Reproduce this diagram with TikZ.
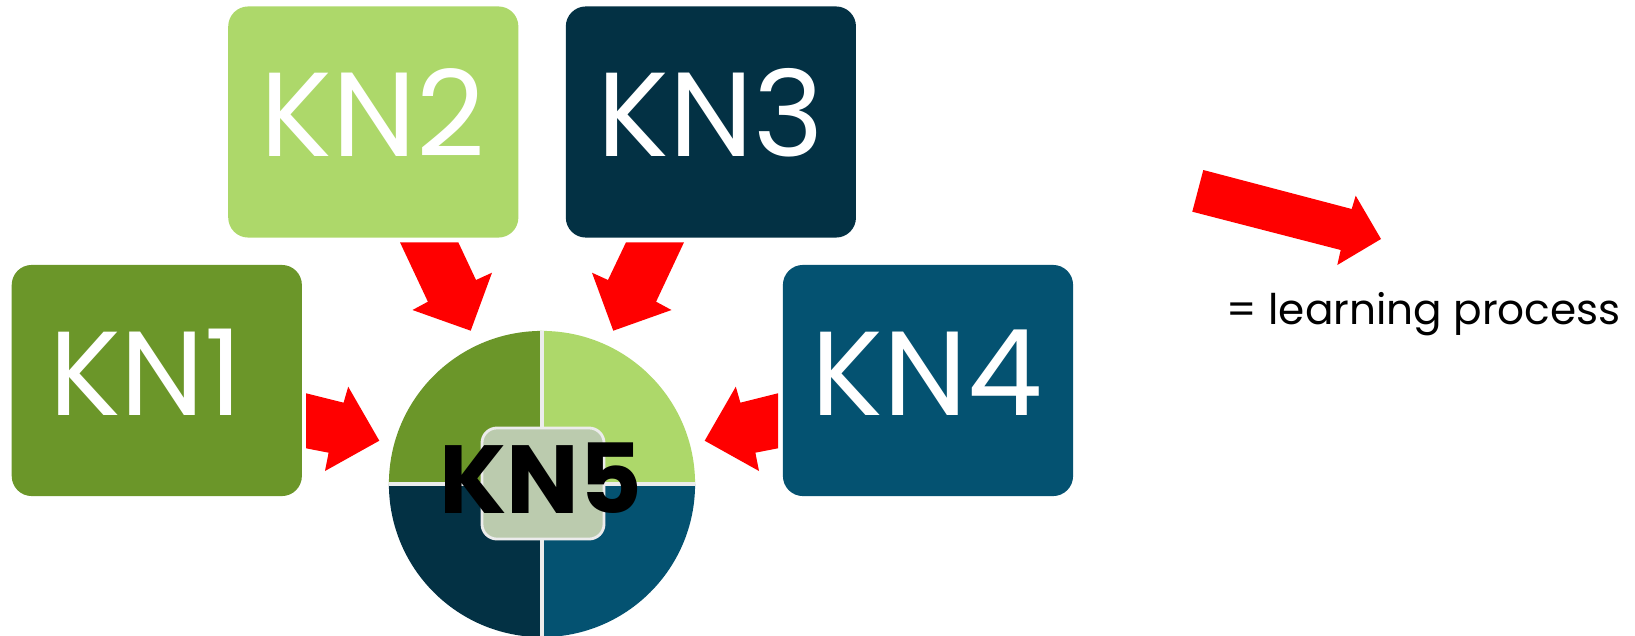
\documentclass[tikz,border=0pt]{standalone}
\usepackage{fontspec}
\setmainfont{Poppins}
\definecolor{cA}{HTML}{6B9629}
\definecolor{cB}{HTML}{ADD86A}
\definecolor{cC}{HTML}{033144}
\definecolor{cD}{HTML}{045271}
\definecolor{cE}{HTML}{BBCBAE}
\begin{document}
\begin{tikzpicture}[x=0.01cm,y=-0.01cm,
  kbox/.style={rounded corners=0.2cm, inner sep=0pt, minimum width=2.9cm, minimum height=2.31cm},
  ktext/.style={text=white, font=\fontsize{34}{34}\selectfont, anchor=base, inner sep=0pt},
  redarrow/.style={fill=red}]
\useasboundingbox (0,0) rectangle (1635,636);
% boxes
\node[kbox, fill=cA] (kn1) at (156.8,380.5) {};
\node[kbox, fill=cB] (kn2) at (373.3,122) {};
\node[kbox, fill=cC] (kn3) at (710.9,122) {};
\node[kbox, fill=cD] (kn4) at (928,380.5) {};
\node[ktext] (t1) at (146,415) {KN1};
\node[ktext] (t2) at (373,156) {KN2};
\node[ktext] (t3) at (710.5,156) {KN3};
\node[ktext] (t4) at (927,415) {KN4};
% circle
\node[circle, minimum size=3.06cm, inner sep=0pt] (kn5c) at (542,484) {};
\begin{scope}
\clip (kn5c.center) circle[radius=1.53cm];
\fill[cA] (kn5c.center) rectangle ++(-160,-160);
\fill[cB] (kn5c.center) rectangle ++(160,-160);
\fill[cC] (kn5c.center) rectangle ++(-160,160);
\fill[cD] (kn5c.center) rectangle ++(160,160);
\draw[white!85!gray, line width=0.9pt] (kn5c.north) -- (kn5c.south) (kn5c.west) -- (kn5c.east);
\end{scope}
\node[rounded corners=0.15cm, fill=cE, draw=white!85!gray, line width=0.8pt, minimum width=1.22cm, minimum height=1.11cm, inner sep=0pt] (kn5box) at (543,483.5) {};
\node[anchor=base, inner sep=0pt, font=\fontsize{27.5}{27.5}\selectfont\bfseries] (t5) at (541,513) {KN5};
% arrows
\fill[redarrow] (400,242.3) -- (458.3,242.3) -- (476,280) -- (492,272.7) -- (470.7,330.7) -- (412.5,310) -- (427.9,301.7) -- cycle;
\fill[redarrow] (684,242.3) -- (626,242.3) -- (608,280) -- (592,272.7) -- (613.3,330.7) -- (671.5,310) -- (656.1,301.7) -- cycle;
\fill[redarrow] (306,393.3) -- (343.6,402.7) -- (348.2,386.7) -- (379.3,440.7) -- (325,471) -- (328.6,452.7) -- (306,448.3) -- cycle;
\fill[redarrow] (778,393.3) -- (740.4,402.7) -- (735.8,386.7) -- (704.7,440.7) -- (759,471) -- (755.4,452.7) -- (778,448.3) -- cycle;
% legend
\fill[redarrow] (1203.3,170) -- (1351.7,209) -- (1355.7,195.7) -- (1381,239) -- (1337.3,265) -- (1340.7,250) -- (1192.3,211.7) -- cycle;
\node[anchor=base west, inner sep=0pt, font=\fontsize{12}{12}\selectfont] (leg) at (1226,324) {= learning process};
\end{tikzpicture}
\end{document}
